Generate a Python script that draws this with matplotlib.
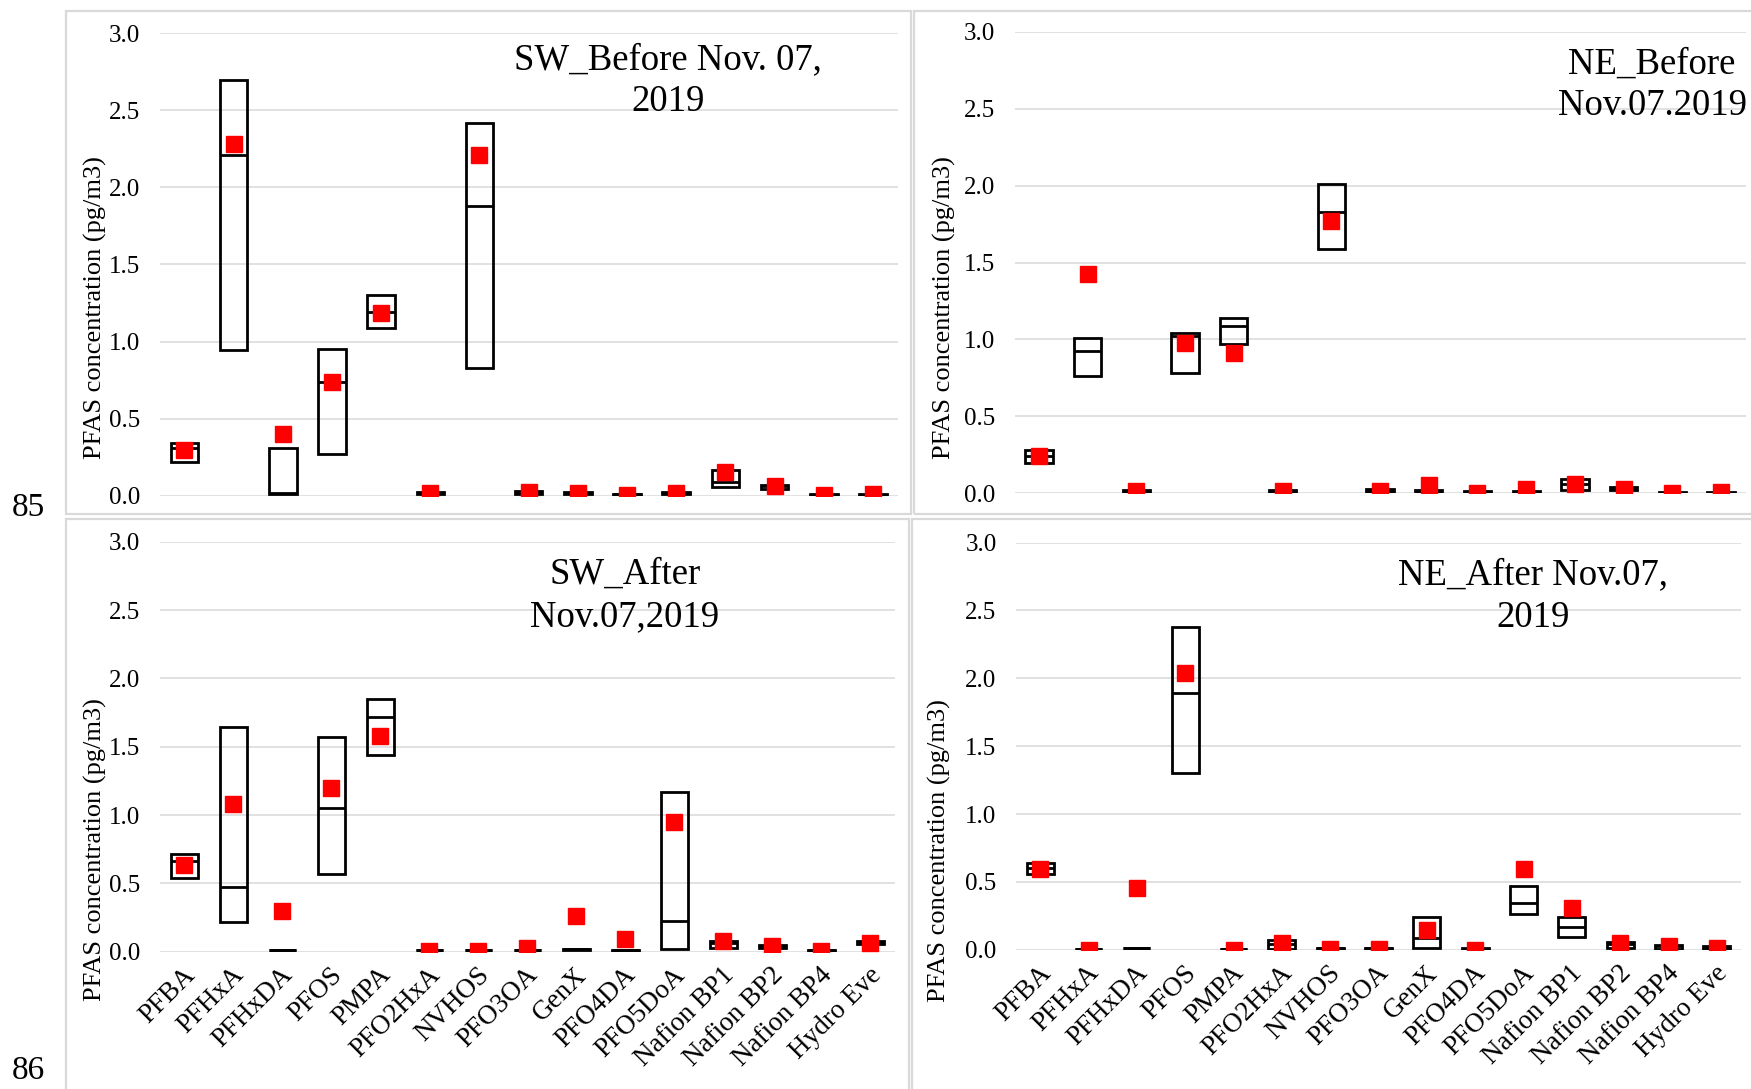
import matplotlib
matplotlib.use("Agg")
import matplotlib.pyplot as plt
import matplotlib.transforms as mtransforms
from matplotlib.patches import Rectangle
import numpy as np

plt.rcParams['font.family'] = ['Liberation Serif', 'DejaVu Serif']

categories = ["PFBA", "PFHxA", "PFHxDA", "PFOS", "PMPA", "PFO2HxA", "NVHOS",
              "PFO3OA", "GenX", "PFO4DA", "PFO5DoA", "Nafion BP1", "Nafion BP2",
              "Nafion BP4", "Hydro Eve"]
yticks = [0.0, 0.5, 1.0, 1.5, 2.0, 2.5, 3.0]

# SW_Before Nov. 07, 2019
sw_before_low  = [0.22, 0.945, 0.012, 0.27, 1.09, 0.008, 0.826, 0.012, 0.012, 0.006, 0.01, 0.058, 0.045, 0.003, 0.004]
sw_before_high = [0.345, 2.70, 0.31, 0.955, 1.30, 0.022, 2.415, 0.028, 0.024, 0.014, 0.024, 0.167, 0.07, 0.008, 0.01]
sw_before_mid  = [0.31, 2.21, 0.02, 0.74, 1.195, 0.015, 1.878, 0.02, 0.018, 0.01, 0.015, 0.09, 0.06, 0.005, 0.006]
sw_before_mean = [0.295, 2.28, 0.40, 0.735, 1.185, 0.015, 2.21, 0.022, 0.018, 0.005, 0.02, 0.157, 0.065, 0.003, 0.01]

# NE_Before Nov.07.2019
ne_before_low  = [0.20, 0.762, 0.006, 0.78, 0.97, 0.006, 1.585, 0.006, 0.013, 0.006, 0.006, 0.022, 0.022, 0.003, 0.003]
ne_before_high = [0.282, 1.007, 0.02, 1.04, 1.137, 0.02, 2.01, 0.03, 0.021, 0.014, 0.014, 0.093, 0.043, 0.008, 0.008]
ne_before_mid  = [0.24, 0.925, 0.012, 1.025, 1.087, 0.012, 1.828, 0.018, 0.017, 0.01, 0.01, 0.058, 0.033, 0.005, 0.005]
ne_before_mean = [0.243, 1.425, 0.012, 0.975, 0.914, 0.012, 1.772, 0.018, 0.054, 0.0, 0.026, 0.06, 0.028, 0.0, 0.01]

# SW_After Nov.07,2019
sw_after_low  = [0.536, 0.217, 0.01, 0.571, 1.44, 0.01, 0.01, 0.01, 0.015, 0.008, 0.019, 0.027, 0.027, 0.008, 0.054]
sw_after_high = [0.718, 1.647, 0.016, 1.57, 1.848, 0.016, 0.016, 0.016, 0.022, 0.012, 1.165, 0.075, 0.048, 0.012, 0.08]
sw_after_mid  = [0.664, 0.471, 0.013, 1.053, 1.72, 0.013, 0.013, 0.013, 0.018, 0.01, 0.228, 0.065, 0.04, 0.01, 0.065]
sw_after_mean = [0.637, 1.08, 0.297, 1.20, 1.58, 0.008, 0.008, 0.027, 0.262, 0.094, 0.946, 0.08, 0.043, 0.008, 0.062]

# NE_After Nov.07, 2019
ne_after_low  = [0.561, 0.003, 0.01, 1.30, 0.003, 0.008, 0.008, 0.008, 0.013, 0.006, 0.264, 0.097, 0.013, 0.008, 0.008]
ne_after_high = [0.636, 0.007, 0.016, 2.38, 0.007, 0.075, 0.012, 0.012, 0.245, 0.01, 0.472, 0.245, 0.054, 0.035, 0.03]
ne_after_mid  = [0.60, 0.005, 0.013, 1.895, 0.005, 0.04, 0.01, 0.01, 0.09, 0.008, 0.345, 0.17, 0.04, 0.025, 0.02]
ne_after_mean = [0.593, 0.0, 0.453, 2.038, 0.0, 0.05, 0.005, 0.005, 0.148, 0.0, 0.593, 0.305, 0.05, 0.03, 0.013]

W, H = 1751, 1089
fig = plt.figure(figsize=(W / 100, H / 100), dpi=100)

def fx(px):
    return px / W

def fy(py):
    return 1 - py / H

GRID = '#d9d9d9'

# panel borders (Excel chart areas)
for (x0, y0, x1, y1) in [(66, 11, 910.5, 514), (914, 11, 1765, 514),
                         (66, 519, 909, 1100), (912, 519, 1765, 1100)]:
    fig.patches.append(Rectangle((fx(x0), fy(y1)), fx(x1) - fx(x0), fy(y0) - fy(y1),
                                 transform=fig.transFigure, fill=False,
                                 edgecolor=GRID, linewidth=1.6, zorder=0))

panels = [
    dict(box=(159.8, 897.5, 33.3, 495.7), low=sw_before_low, high=sw_before_high,
         mid=sw_before_mid, mean=sw_before_mean, xt=False,
         title=[("SW_Before Nov. 07,", 668, 69), ("2019", 668, 111.5)],
         ylab=(95.6, 307.6)),
    dict(box=(1014.5, 1745.5, 31.7, 493.3), low=ne_before_low, high=ne_before_high,
         mid=ne_before_mid, mean=ne_before_mean, xt=False,
         title=[("NE_Before", 1652, 73.3), ("Nov.07.2019", 1652, 115)],
         ylab=(944, 308)),
    dict(box=(159.8, 894.8, 541.7, 951.7), low=sw_after_low, high=sw_after_high,
         mid=sw_after_mid, mean=sw_after_mean, xt=True,
         title=[("SW_After", 625, 583.8), ("Nov.07,2019", 625, 626.6)],
         ylab=(95.6, 850)),
    dict(box=(1016, 1741, 542.5, 949.8), low=ne_after_low, high=ne_after_high,
         mid=ne_after_mid, mean=ne_after_mean, xt=True,
         title=[("NE_After Nov.07,", 1533, 584.5), ("2019", 1533, 626.6)],
         ylab=(939.5, 851)),
]

bw = 0.56
shift = mtransforms.ScaledTranslation(7 / 100, 0, fig.dpi_scale_trans)
for p in panels:
    l, r, t, b = p['box']
    ax = fig.add_axes([fx(l), fy(b), fx(r) - fx(l), fy(t) - fy(b)])
    ax.set_facecolor('none')
    x = np.arange(len(categories))
    low = np.array(p['low']); high = np.array(p['high'])
    ax.bar(x, high - low, bottom=low, width=bw, facecolor='none',
           edgecolor='black', linewidth=2.0, zorder=3)
    ax.hlines(p['mid'], x - bw / 2, x + bw / 2, colors='black', linewidth=2.0, zorder=3)
    ax.plot(x, p['mean'], linestyle='none', marker='s', markersize=11.5,
            color='#ff0000', markeredgecolor='#ff0000', zorder=4)
    ax.set_xlim(-0.5, len(categories) - 0.5)
    ax.set_ylim(0, 3.0)
    ax.set_yticks(yticks)
    ax.set_yticklabels([f"{v:.1f}" for v in yticks])
    ax.yaxis.grid(True, color=GRID, linewidth=1.1, zorder=0)
    ax.set_axisbelow(True)
    for s in ax.spines.values():
        s.set_visible(False)
    ax.tick_params(axis='y', length=0, pad=14, labelsize=18)
    ax.set_xticks(x)
    if p['xt']:
        ax.set_xticklabels(categories, rotation=45, ha='right', va='center',
                           rotation_mode='anchor', fontsize=19.5)
        ax.tick_params(axis='x', length=0, pad=14)
        for lab in ax.get_xticklabels():
            lab.set_transform(lab.get_transform() + shift)
    else:
        ax.set_xticklabels([])
        ax.tick_params(axis='x', length=0)
    for (txt, tx, ty) in p['title']:
        fig.text(fx(tx), fy(ty), txt, ha='center', va='baseline', fontsize=26.5)
    fig.text(fx(p['ylab'][0]), fy(p['ylab'][1]), "PFAS concentration (pg/m3)",
             rotation=90, ha='center', va='center', fontsize=19)

fig.text(fx(12), fy(508), "85", ha='left', va='center', fontsize=24)
fig.text(fx(12), fy(1086), "86", ha='left', va='bottom', fontsize=24)

fig.savefig("out.png", dpi=100, facecolor='white')
